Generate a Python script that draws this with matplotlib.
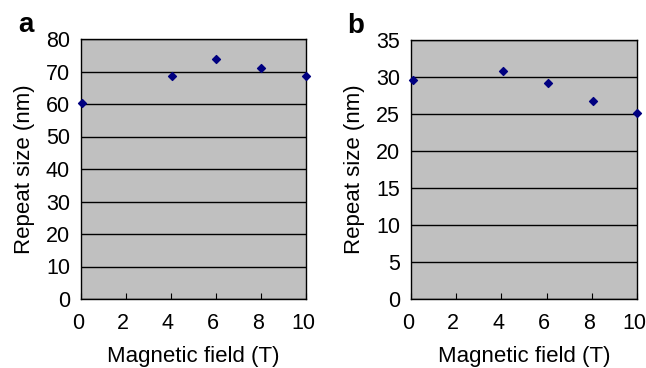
import matplotlib.pyplot as plt
from matplotlib.transforms import ScaledTranslation

plt.rcParams['font.family'] = ['Liberation Sans', 'DejaVu Sans']

# Repeat size vs magnetic field, two samples
field_a = [0.05, 4.05, 6.0, 8.0, 10.0]
size_a = [60.2, 68.7, 73.8, 71.2, 68.7]

field_b = [0.1, 4.05, 6.05, 8.05, 10.0]
size_b = [29.6, 30.8, 29.2, 26.7, 25.2]

fig = plt.figure(figsize=(6.46, 3.68), dpi=100)
W, H = 646, 368
ax_a = fig.add_axes([81 / W, 1 - 299 / H, 225 / W, 260 / H])
ax_b = fig.add_axes([411 / W, 1 - 299 / H, 226 / W, 259 / H])


def style(ax, x, y, ymax, ystep, letter):
    ax.set_facecolor('#c0c0c0')
    ax.scatter(x, y, marker='D', s=16, color='#000080', zorder=3, clip_on=False)
    ax.set_xlim(0, 10)
    ax.set_ylim(0, ymax)
    ax.set_xticks(range(0, 11, 2))
    ax.set_yticks(range(0, ymax + 1, ystep))
    ax.yaxis.grid(True, color='black', linewidth=1.0)
    ax.set_axisbelow(True)
    for s in ax.spines.values():
        s.set_color('black')
        s.set_linewidth(1.0)
    ax.tick_params(axis='x', direction='in', length=4, pad=10, labelsize=15.5)
    ax.tick_params(axis='y', length=0, pad=8, labelsize=15.5)
    # x tick labels sit a little left of their ticks
    shift = ScaledTranslation(-3 / 100, 0, fig.dpi_scale_trans)
    for lab in ax.get_xticklabels():
        lab.set_transform(lab.get_transform() + shift)
    ax.set_xlabel('Magnetic field (T)', fontsize=16, labelpad=9)
    ax.set_ylabel('Repeat size (nm)', fontsize=16, labelpad=8)
    ax.text(-0.28, 1.027, letter, transform=ax.transAxes, fontsize=20,
            fontweight='bold', va='baseline', ha='left')


style(ax_a, field_a, size_a, 80, 10, 'a')
style(ax_b, field_b, size_b, 35, 5, 'b')

fig.savefig('out.png', dpi=100)
